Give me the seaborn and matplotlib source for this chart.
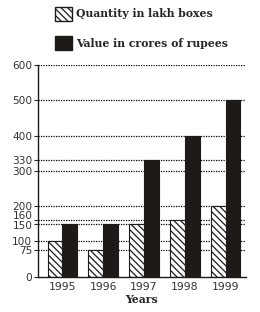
import seaborn as sns
import matplotlib.pyplot as plt
import matplotlib.transforms as mtransforms
import pandas as pd
from matplotlib.patches import Patch

years = ['1995', '1996', '1997', '1998', '1999']
quantity = [100, 75, 150, 160, 200]
value = [150, 150, 330, 400, 500]
series = ['Quantity in lakh boxes', 'Value in crores of rupees']
yticks = [0, 75, 100, 150, 160, 200, 300, 330, 400, 500, 600]

df = pd.DataFrame({
    'year': years * 2,
    'amount': quantity + value,
    'series': [series[0]] * len(years) + [series[1]] * len(years),
})

sns.set_style('white')
plt.rcParams['hatch.linewidth'] = 0.9
fig = plt.figure(figsize=(2.6, 3.12), dpi=100)
ax = fig.add_axes([0.146, 0.113, 0.80, 0.679])

for t in yticks[1:]:
    ax.axhline(t, color='black', lw=0.9, ls=(0, (1, 1)), zorder=0)

sns.barplot(data=df, x='year', y='amount', hue='series', ax=ax,
            palette=['white', '#1e1a17'], width=0.73, saturation=1,
            edgecolor='#1e1a17', linewidth=0.8, legend=False, zorder=2)

n = len(years)
for i, p in enumerate(ax.patches[:2 * n]):
    if i < n:
        p.set_hatch('\\\\\\\\\\')

ax.set_ylim(0, 600)
ax.set_xlim(-0.6, 4.5)
ax.set_yticks(yticks)
ax.tick_params(axis='y', length=3, width=0.8, labelsize=7.6, pad=1, left=True)
ax.tick_params(axis='x', length=0, labelsize=7.8, pad=4)
for lab in ax.get_yticklabels() + ax.get_xticklabels():
    lab.set_color('#333333')
# spread the crowded 150 / 160 labels apart
nudge = {160: 4.0, 150: -1.2}
for lab, t in zip(ax.get_yticklabels(), yticks):
    if t in nudge:
        lab.set_transform(lab.get_transform() +
                          mtransforms.ScaledTranslation(0, nudge[t] / 72, fig.dpi_scale_trans))
ax.set_ylabel('')
ax.set_xlabel('Years', fontsize=7.8, fontweight='bold', family='DejaVu Serif', labelpad=1)
sns.despine(ax=ax)
for s in ['left', 'bottom']:
    ax.spines[s].set_color('#1e1a17')
    ax.spines[s].set_linewidth(1)

handles = [Patch(facecolor='white', edgecolor='#1e1a17', hatch='\\\\\\\\\\', label=series[0]),
           Patch(facecolor='#1e1a17', edgecolor='#1e1a17', label=series[1])]
fig.legend(handles=handles, loc='upper left', bbox_to_anchor=(0.175, 1.01),
           frameon=False, handlelength=1.5, handleheight=1.6, labelspacing=1.45,
           handletextpad=0.45, prop={'family': 'DejaVu Serif', 'weight': 'bold', 'size': 7.8})

fig.savefig('out.png', dpi=100)
